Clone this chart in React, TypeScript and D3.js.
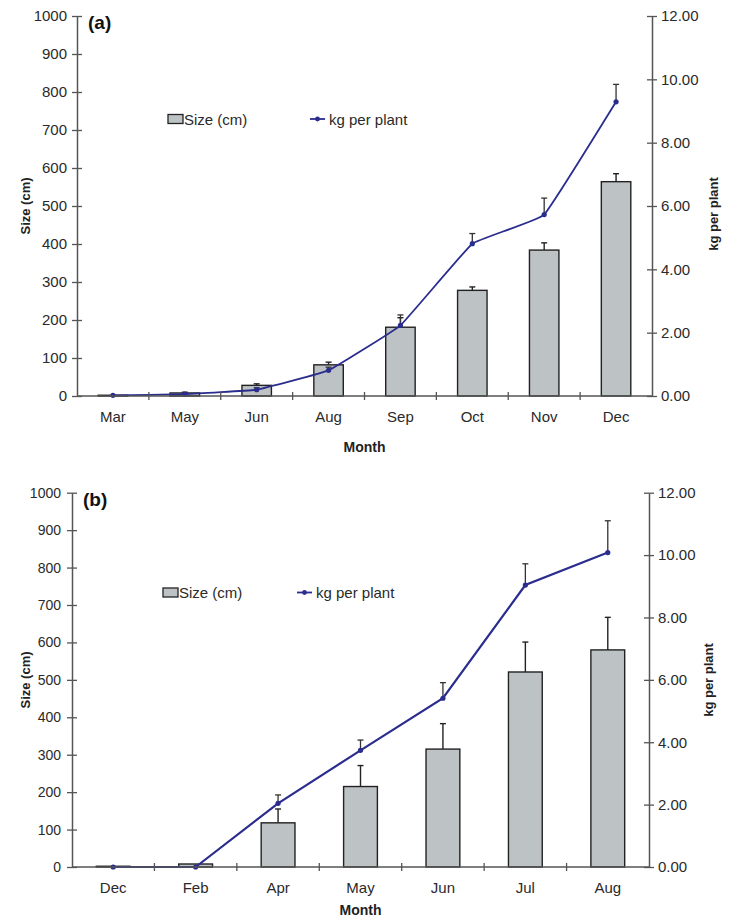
import React, { useEffect, useRef } from 'react';
import * as d3 from 'd3';

// panel (a)
const monthsA = ['Mar', 'May', 'Jun', 'Aug', 'Sep', 'Oct', 'Nov', 'Dec'];
const sizeA = [2, 8, 28, 82, 181, 278, 384, 564];
const sizeErrA = [0, 2, 4, 7, 25, 9, 19, 21];
const kgA = [0.02, 0.06, 0.2, 0.81, 2.23, 4.81, 5.73, 9.29];
const kgErrA = [0, 0.02, 0.06, 0.1, 0.33, 0.32, 0.52, 0.55];

// panel (b)
const monthsB = ['Dec', 'Feb', 'Apr', 'May', 'Jun', 'Jul', 'Aug'];
const sizeB = [2, 8, 118, 215, 315, 521, 580];
const sizeErrB = [0, 0, 37, 56, 68, 80, 87];
const kgB = [0, 0, 2.04, 3.74, 5.41, 9.04, 10.08];
const kgErrB = [0, 0, 0.27, 0.33, 0.5, 0.68, 1.02];

const sizeTicks = [0, 100, 200, 300, 400, 500, 600, 700, 800, 900, 1000];
const kgTicks = [0, 2, 4, 6, 8, 10, 12];

const FONT = "'Liberation Sans', Arial, sans-serif";
const TEXT = '#2a2a2a';
const AXIS = '#555';
const LINE = '#2b2d8e';
const BAR = '#bdc2c5';

export default function App() {
  const ref = useRef<SVGSVGElement>(null);

  useEffect(() => {
    const svg = d3.select(ref.current);
    svg.selectAll('*').remove();

    const drawPanel = (opt: any) => {
      const { months, size, sizeErr, kg, kgErr, left, right, top, bottom, label, curve,
        legY, legRectX, legLineX, leftLabelEnd, sizeTitleY, kgTitleX, kgTitleY, monthY, tickFont, lineW } = opt;
      const g = svg.append('g');

      const x = d3.scaleBand<string>().domain(months).range([left, right]);
      const ySize = d3.scaleLinear().domain([0, 1000]).range([bottom, top]);
      const yKg = d3.scaleLinear().domain([0, 12]).range([bottom, top]);
      const bw = x.bandwidth() * 0.41;

      // bar error bars (upward only)
      months.forEach((m: string, i: number) => {
        if (!sizeErr[i]) return;
        const cx = x(m)! + x.bandwidth() / 2;
        g.append('line').attr('x1', cx).attr('x2', cx)
          .attr('y1', ySize(size[i])).attr('y2', ySize(size[i] + sizeErr[i]))
          .attr('stroke', '#222').attr('stroke-width', 1.4);
        g.append('line').attr('x1', cx - 3).attr('x2', cx + 3)
          .attr('y1', ySize(size[i] + sizeErr[i])).attr('y2', ySize(size[i] + sizeErr[i]))
          .attr('stroke', '#222').attr('stroke-width', 1.4);
      });

      // bars
      g.selectAll('rect.bar').data(months).enter().append('rect')
        .attr('x', (m: string) => x(m)! + x.bandwidth() / 2 - bw / 2)
        .attr('y', (_: string, i: number) => ySize(size[i]))
        .attr('width', bw)
        .attr('height', (_: string, i: number) => bottom - ySize(size[i]))
        .attr('fill', BAR).attr('stroke', '#222').attr('stroke-width', 1.4);

      // kg error bars
      months.forEach((m: string, i: number) => {
        if (!kgErr[i]) return;
        const cx = x(m)! + x.bandwidth() / 2;
        g.append('line').attr('x1', cx).attr('x2', cx)
          .attr('y1', yKg(kg[i])).attr('y2', yKg(kg[i] + kgErr[i]))
          .attr('stroke', '#333').attr('stroke-width', 1.3);
        g.append('line').attr('x1', cx - 3).attr('x2', cx + 3)
          .attr('y1', yKg(kg[i] + kgErr[i])).attr('y2', yKg(kg[i] + kgErr[i]))
          .attr('stroke', '#333').attr('stroke-width', 1.3);
      });

      // kg line
      const line = d3.line<number>()
        .x((_, i) => x(months[i])! + x.bandwidth() / 2)
        .y(d => yKg(d))
        .curve(curve);
      g.append('path').datum(kg).attr('d', line)
        .attr('fill', 'none').attr('stroke', LINE).attr('stroke-width', lineW);
      g.selectAll('circle.pt').data(kg).enter().append('circle')
        .attr('cx', (_: number, i: number) => x(months[i])! + x.bandwidth() / 2)
        .attr('cy', (d: number) => yKg(d))
        .attr('r', 2.6).attr('fill', LINE);

      // left axis
      const leftAx = d3.axisLeft(ySize).tickValues(sizeTicks).tickFormat(d3.format('d'))
        .tickSizeInner(5).tickSizeOuter(0).tickPadding(left - leftLabelEnd - 5);
      g.append('g').attr('transform', `translate(${left},0)`).call(leftAx)
        .call(a => a.select('.domain').attr('stroke', AXIS).attr('stroke-width', 1.5))
        .call(a => a.selectAll('.tick line').attr('stroke', AXIS).attr('stroke-width', 1.3).attr('x2', 5).attr('x1', -5))
        .call(a => a.selectAll('.tick text').attr('fill', TEXT).attr('font-size', tickFont).attr('font-family', FONT));

      // right axis
      const rightAx = d3.axisRight(yKg).tickValues(kgTicks).tickFormat(d3.format('.2f'))
        .tickSizeInner(5).tickSizeOuter(0).tickPadding(4);
      g.append('g').attr('transform', `translate(${right},0)`).call(rightAx)
        .call(a => a.select('.domain').attr('stroke', AXIS).attr('stroke-width', 1.5))
        .call(a => a.selectAll('.tick line').attr('stroke', AXIS).attr('stroke-width', 1.3).attr('x1', -5).attr('x2', 5))
        .call(a => a.selectAll('.tick text').attr('fill', TEXT).attr('font-size', 15).attr('font-family', FONT));

      // x axis line with boundary ticks
      g.append('line').attr('x1', left).attr('x2', right).attr('y1', bottom).attr('y2', bottom)
        .attr('stroke', AXIS).attr('stroke-width', 1.5);
      months.slice(1).forEach((m: string) => {
        const tx = x(m)!;
        g.append('line').attr('x1', tx).attr('x2', tx).attr('y1', bottom - 4).attr('y2', bottom + 4)
          .attr('stroke', AXIS).attr('stroke-width', 1.3);
      });
      g.selectAll('text.xl').data(months).enter().append('text')
        .attr('x', (m: string) => x(m)! + x.bandwidth() / 2)
        .attr('y', bottom + 26)
        .attr('text-anchor', 'middle').attr('font-size', 15).attr('font-family', FONT).attr('fill', TEXT)
        .text((m: string) => m);

      // titles
      g.append('text').attr('x', (left + right) / 2).attr('y', monthY)
        .attr('text-anchor', 'middle').attr('font-size', 14).attr('font-weight', 'bold')
        .attr('font-family', FONT).attr('fill', '#222').text('Month');
      g.append('text').attr('transform', `translate(30,${sizeTitleY}) rotate(-90)`)
        .attr('text-anchor', 'middle').attr('font-size', 13).attr('font-weight', 'bold')
        .attr('font-family', FONT).attr('fill', '#222').text('Size (cm)');
      g.append('text').attr('transform', `translate(${kgTitleX},${kgTitleY}) rotate(-90)`)
        .attr('text-anchor', 'middle').attr('font-size', 13).attr('font-weight', 'bold')
        .attr('font-family', FONT).attr('fill', '#222').text('kg per plant');
      g.append('text').attr('x', left + 11).attr('y', top + 13)
        .attr('font-size', 19).attr('font-weight', 'bold')
        .attr('font-family', FONT).attr('fill', '#111').text(label);

      // legend
      g.append('rect').attr('x', legRectX).attr('y', legY - 4.5).attr('width', 15).attr('height', 9)
        .attr('fill', BAR).attr('stroke', '#222').attr('stroke-width', 1.3);
      g.append('text').attr('x', legRectX + 16).attr('y', legY + 5.5)
        .attr('font-size', 15).attr('font-family', FONT).attr('fill', TEXT).text('Size (cm)');
      g.append('line').attr('x1', legLineX).attr('x2', legLineX + 15).attr('y1', legY).attr('y2', legY)
        .attr('stroke', LINE).attr('stroke-width', 1.8);
      g.append('circle').attr('cx', legLineX + 7.5).attr('cy', legY).attr('r', 2.4).attr('fill', LINE);
      g.append('text').attr('x', legLineX + 19).attr('y', legY + 5.5)
        .attr('font-size', 15).attr('font-family', FONT).attr('fill', TEXT).text('kg per plant');
    };

    drawPanel({
      months: monthsA, size: sizeA, sizeErr: sizeErrA, kg: kgA, kgErr: kgErrA,
      left: 77, right: 652, top: 16, bottom: 396, label: '(a)',
      curve: d3.curveCardinal.tension(0.75), lineW: 1.8,
      legY: 119, legRectX: 168, legLineX: 310, leftLabelEnd: 67,
      sizeTitleY: 206, kgTitleX: 718, kgTitleY: 214, monthY: 452, tickFont: 15,
    });
    drawPanel({
      months: monthsB, size: sizeB, sizeErr: sizeErrB, kg: kgB, kgErr: kgErrB,
      left: 72, right: 649, top: 492.7, bottom: 867, label: '(b)',
      curve: d3.curveLinear, lineW: 2.2,
      legY: 592.5, legRectX: 163, legLineX: 297, leftLabelEnd: 61,
      sizeTitleY: 680, kgTitleX: 713, kgTitleY: 680, monthY: 915, tickFont: 14,
    });
  }, []);

  return (
    <svg ref={ref} width={730} height={921}
      style={{ position: 'absolute', left: 0, top: 0, background: '#fff' }} />
  );
}
